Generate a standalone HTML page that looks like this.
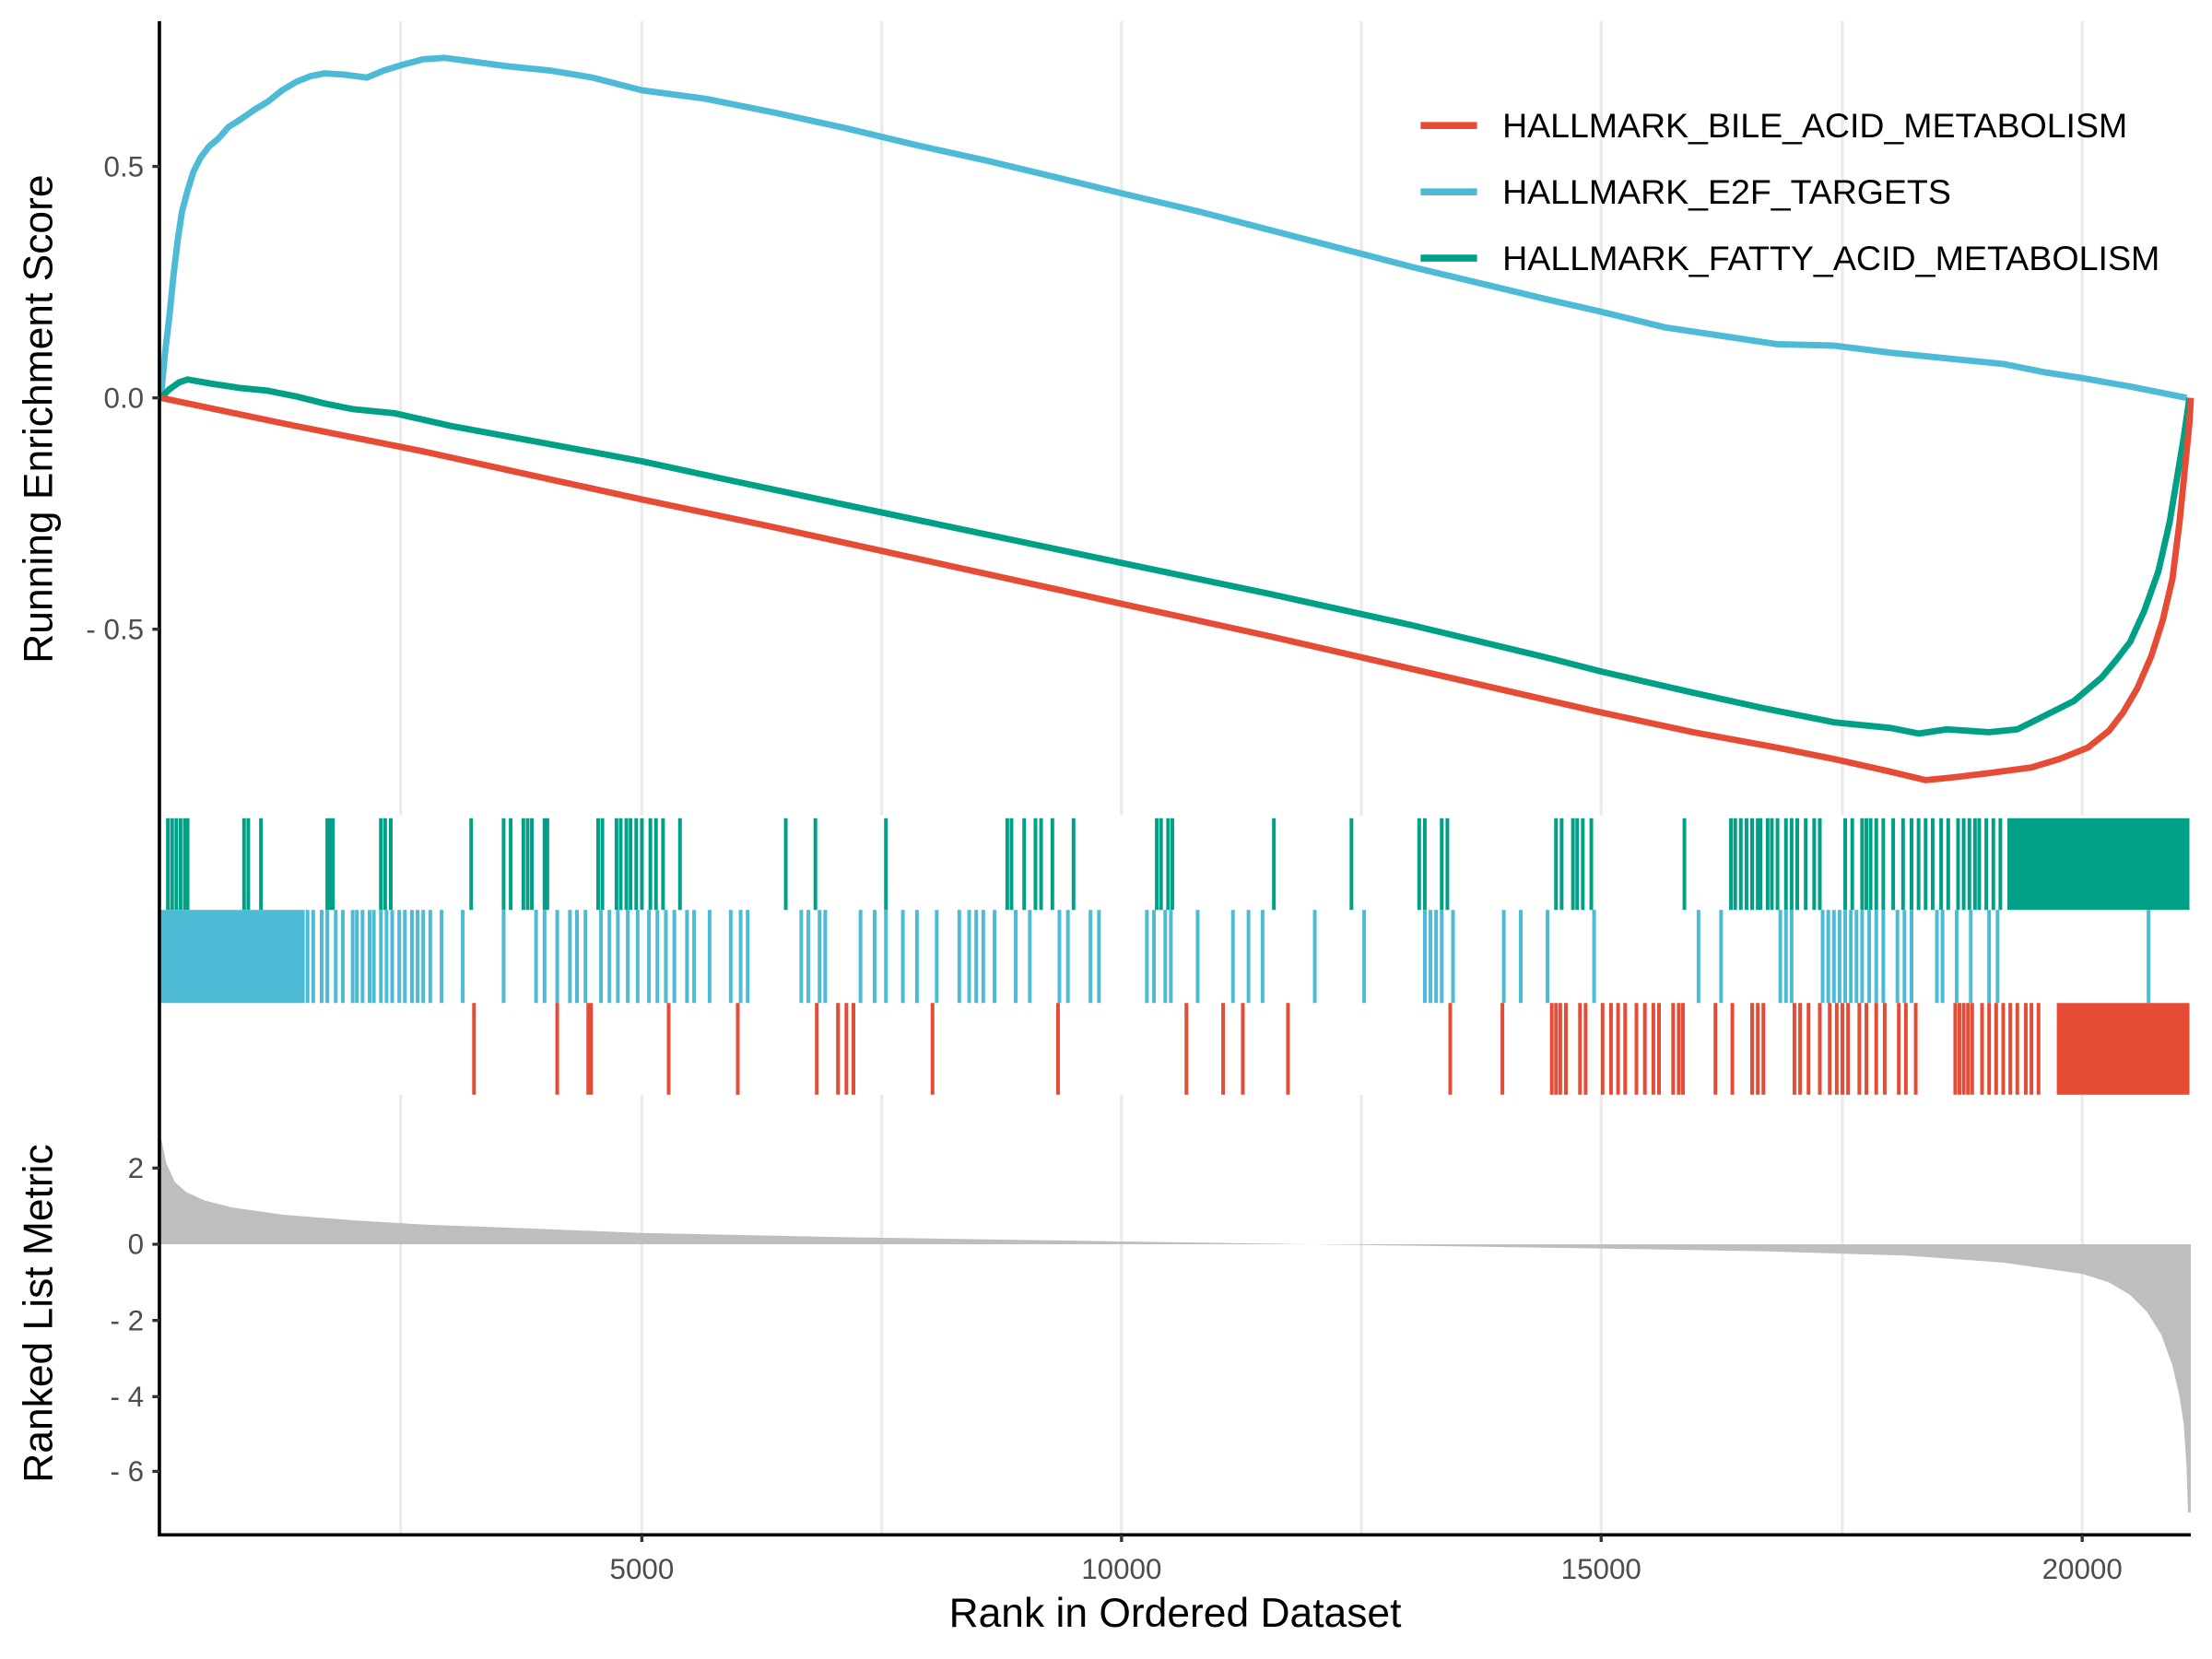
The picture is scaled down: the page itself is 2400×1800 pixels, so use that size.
<!DOCTYPE html>
<html><head><meta charset="utf-8"><style>
html,body{margin:0;padding:0;background:#fff}
svg{display:block}
text{font-family:"Liberation Sans",Arial,sans-serif}
</style></head><body>
<svg width="2400" height="1800" viewBox="0 0 1568 1176" preserveAspectRatio="none" xmlns="http://www.w3.org/2000/svg">
<rect width="1568" height="1176" fill="#fff"/>
<g stroke="#ebebeb" stroke-width="2.2">
<path d="M284 15V578M455 15V578M625 15V578M795 15V578M965 15V578M1135 15V578M1306 15V578M1476 15V578"/>
<path d="M284 776V1088M455 776V1088M625 776V1088M795 776V1088M965 776V1088M1135 776V1088M1306 776V1088M1476 776V1088"/>
</g>
<g stroke-width="5">
<line x1="1007" y1="89" x2="1047" y2="89" stroke="#E64B35"/>
<line x1="1007" y1="136" x2="1047" y2="136" stroke="#4DBBD5"/>
<line x1="1007" y1="183" x2="1047" y2="183" stroke="#00A087"/>
</g>
<g font-size="24" fill="#000">
<text x="1065" y="97.5" textLength="443" lengthAdjust="spacingAndGlyphs">HALLMARK_BILE_ACID_METABOLISM</text>
<text x="1065" y="144.5" textLength="318" lengthAdjust="spacingAndGlyphs">HALLMARK_E2F_TARGETS</text>
<text x="1065" y="191.5" textLength="466" lengthAdjust="spacingAndGlyphs">HALLMARK_FATTY_ACID_METABOLISM</text>
</g>
<g fill="none" stroke-width="4.5" stroke-linejoin="round">
<polyline stroke="#4DBBD5" points="114,282 117,250 120,225 123,195 126,170 129,150 133,135 137,122 142,112 148,104 155,98 162,90 170,85 180,78 190,72 200,64 210,58 220,54 230,52 245,53 260,55 272,50 285,46 300,42 315,41 330,43 360,47 390,50 420,55 455,64 500,70 550,80 600,91 650,103 700,114 750,126 795,137 850,150 900,163 950,176 1000,189 1050,201 1100,213 1135,221 1180,232 1220,238 1260,244 1300,245 1340,250 1380,254 1420,258 1450,264 1476,268 1510,274 1550,282"/>
<polyline stroke="#00A087" points="114,282 120,276 127,271 133,269 150,272 170,275 190,277 210,281 230,286 250,290 280,293 320,302 380,313 455,327 520,341 600,358 700,379 795,399 900,421 1000,443 1100,467 1135,476 1200,491 1250,502 1300,512 1340,516 1360,520 1380,517 1410,519 1430,517 1450,507 1470,497 1490,480 1500,468 1510,455 1520,433 1530,405 1538,370 1543,340 1548,310 1552,282"/>
<polyline stroke="#E64B35" points="114,282 200,300 300,320 400,342 455,354 550,374 650,396 750,418 795,428 900,451 1000,474 1100,497 1135,505 1200,519 1260,530 1300,538 1340,547 1365,553 1385,551 1410,548 1440,544 1460,538 1480,530 1495,518 1505,505 1515,488 1525,465 1533,440 1540,410 1545,370 1549,330 1552,300 1553,282"/>
</g>
<path stroke="#00A087" stroke-width="2.6" fill="none" d="M119 580v65M122 580v65M125 580v65M128 580v65M131 580v65M133 580v65M173 580v65M176 580v65M185 580v65M232 580v65M234 580v65M236 580v65M270 580v65M273 580v65M277 580v65M334 580v65M357 580v65M362 580v65M371 580v65M374 580v65M377 580v65M386 580v65M388 580v65M424 580v65M427 580v65M437 580v65M440 580v65M444 580v65M447 580v65M451 580v65M455 580v65M461 580v65M465 580v65M470 580v65M482 580v65M557 580v65M578 580v65M628 580v65M714 580v65M717 580v65M726 580v65M734 580v65M738 580v65M746 580v65M761 580v65M820 580v65M823 580v65M828 580v65M831 580v65M903 580v65M958 580v65M1006 580v65M1010 580v65M1022 580v65M1026 580v65M1103 580v65M1107 580v65M1115 580v65M1118 580v65M1122 580v65M1128 580v65M1194 580v65M1227 580v65M1230 580v65M1234 580v65M1238 580v65M1242 580v65M1246 580v65M1248 580v65M1253 580v65M1256 580v65M1260 580v65M1266 580v65M1270 580v65M1274 580v65M1280 580v65M1286 580v65M1290 580v65M1308 580v65M1313 580v65M1320 580v65M1323 580v65M1326 580v65M1330 580v65M1335 580v65M1342 580v65M1349 580v65M1355 580v65M1360 580v65M1365 580v65M1370 580v65M1376 580v65M1381 580v65M1388 580v65M1392 580v65M1396 580v65M1400 580v65M1403 580v65M1408 580v65M1413 580v65M1418 580v65"/>
<rect x="1423" y="580" width="129" height="65" fill="#00A087"/>
<rect x="114" y="645" width="102" height="66" fill="#4DBBD5"/>
<path stroke="#4DBBD5" stroke-width="2.6" fill="none" d="M218 645v66M222 645v66M228 645v66M232 645v66M238 645v66M243 645v66M250 645v66M253 645v66M257 645v66M262 645v66M265 645v66M270 645v66M274 645v66M278 645v66M283 645v66M287 645v66M292 645v66M296 645v66M300 645v66M305 645v66M313 645v66M328 645v66M357 645v66M380 645v66M386 645v66M395 645v66M404 645v66M409 645v66M415 645v66M426 645v66M432 645v66M438 645v66M445 645v66M452 645v66M460 645v66M466 645v66M472 645v66M478 645v66M487 645v66M492 645v66M503 645v66M518 645v66M525 645v66M530 645v66M568 645v66M573 645v66M581 645v66M585 645v66M610 645v66M620 645v66M628 645v66M640 645v66M650 645v66M664 645v66M680 645v66M687 645v66M692 645v66M697 645v66M705 645v66M720 645v66M730 645v66M751 645v66M757 645v66M773 645v66M779 645v66M813 645v66M818 645v66M826 645v66M830 645v66M849 645v66M874 645v66M885 645v66M895 645v66M932 645v66M967 645v66M1010 645v66M1014 645v66M1018 645v66M1022 645v66M1030 645v66M1066 645v66M1078 645v66M1097 645v66M1130 645v66M1204 645v66M1220 645v66M1262 645v66M1266 645v66M1270 645v66M1292 645v66M1296 645v66M1300 645v66M1304 645v66M1308 645v66M1312 645v66M1316 645v66M1320 645v66M1325 645v66M1330 645v66M1335 645v66M1345 645v66M1350 645v66M1355 645v66M1373 645v66M1377 645v66M1387 645v66M1397 645v66M1410 645v66M1416 645v66M1523 645v66"/>
<path stroke="#E64B35" stroke-width="2.6" fill="none" d="M336 711v65M395 711v65M417 711v65M419 711v65M474 711v65M523 711v65M579 711v65M594 711v65M600 711v65M605 711v65M661 711v65M750 711v65M841 711v65M867 711v65M881 711v65M913 711v65M1028 711v65M1065 711v65M1100 711v65M1103 711v65M1106 711v65M1110 711v65M1120 711v65M1124 711v65M1136 711v65M1142 711v65M1147 711v65M1152 711v65M1160 711v65M1166 711v65M1172 711v65M1176 711v65M1186 711v65M1190 711v65M1193 711v65M1216 711v65M1228 711v65M1242 711v65M1246 711v65M1250 711v65M1272 711v65M1276 711v65M1282 711v65M1290 711v65M1297 711v65M1302 711v65M1306 711v65M1310 711v65M1318 711v65M1323 711v65M1330 711v65M1336 711v65M1346 711v65M1351 711v65M1358 711v65M1386 711v65M1389 711v65M1392 711v65M1395 711v65M1398 711v65M1405 711v65M1410 711v65M1415 711v65M1420 711v65M1425 711v65M1430 711v65M1436 711v65M1440 711v65M1445 711v65"/>
<rect x="1458" y="711" width="94" height="65" fill="#E64B35"/>
<polygon fill="#bebebe" points="114,882 114,806 118,825 124,838 132,845 145,851 165,856 200,861 250,865 300,868 380,871 455,874 600,877 795,880 1000,883 1135,885 1250,887 1350,890 1420,895 1476,903 1495,909 1510,918 1522,930 1532,946 1540,968 1545,990 1548,1010 1550,1040 1551,1072 1553,1072 1553,882"/>
<g stroke="#000" stroke-width="2.4" fill="none">
<path d="M113 15V1089M112 1088H1553"/>
</g>
<g stroke="#333" stroke-width="2.2">
<path d="M108 118H113M108 282H113M108 446H113M108 828H113M108 882H113M108 936H113M108 990H113M108 1043H113M455 1088V1093M795 1088V1093M1135 1088V1093M1476 1088V1093"/>
</g>
<g font-size="20.5" fill="#4d4d4d" text-anchor="end">
<text x="102" y="125">0.5</text>
<text x="102" y="289">0.0</text>
<text x="102" y="453">- 0.5</text>
<text x="102" y="835">2</text>
<text x="102" y="889">0</text>
<text x="102" y="943">- 2</text>
<text x="102" y="997">- 4</text>
<text x="102" y="1050">- 6</text>
</g>
<g font-size="20.5" fill="#4d4d4d" text-anchor="middle">
<text x="455" y="1119">5000</text>
<text x="795" y="1119">10000</text>
<text x="1135" y="1119">15000</text>
<text x="1476" y="1119">20000</text>
</g>
<g font-size="29" fill="#000" text-anchor="middle">
<text x="833" y="1153">Rank in Ordered Dataset</text>
<text transform="translate(37,297) rotate(-90)">Running Enrichment Score</text>
<text transform="translate(37,931) rotate(-90)">Ranked List Metric</text>
</g>
</svg>
</body></html>
